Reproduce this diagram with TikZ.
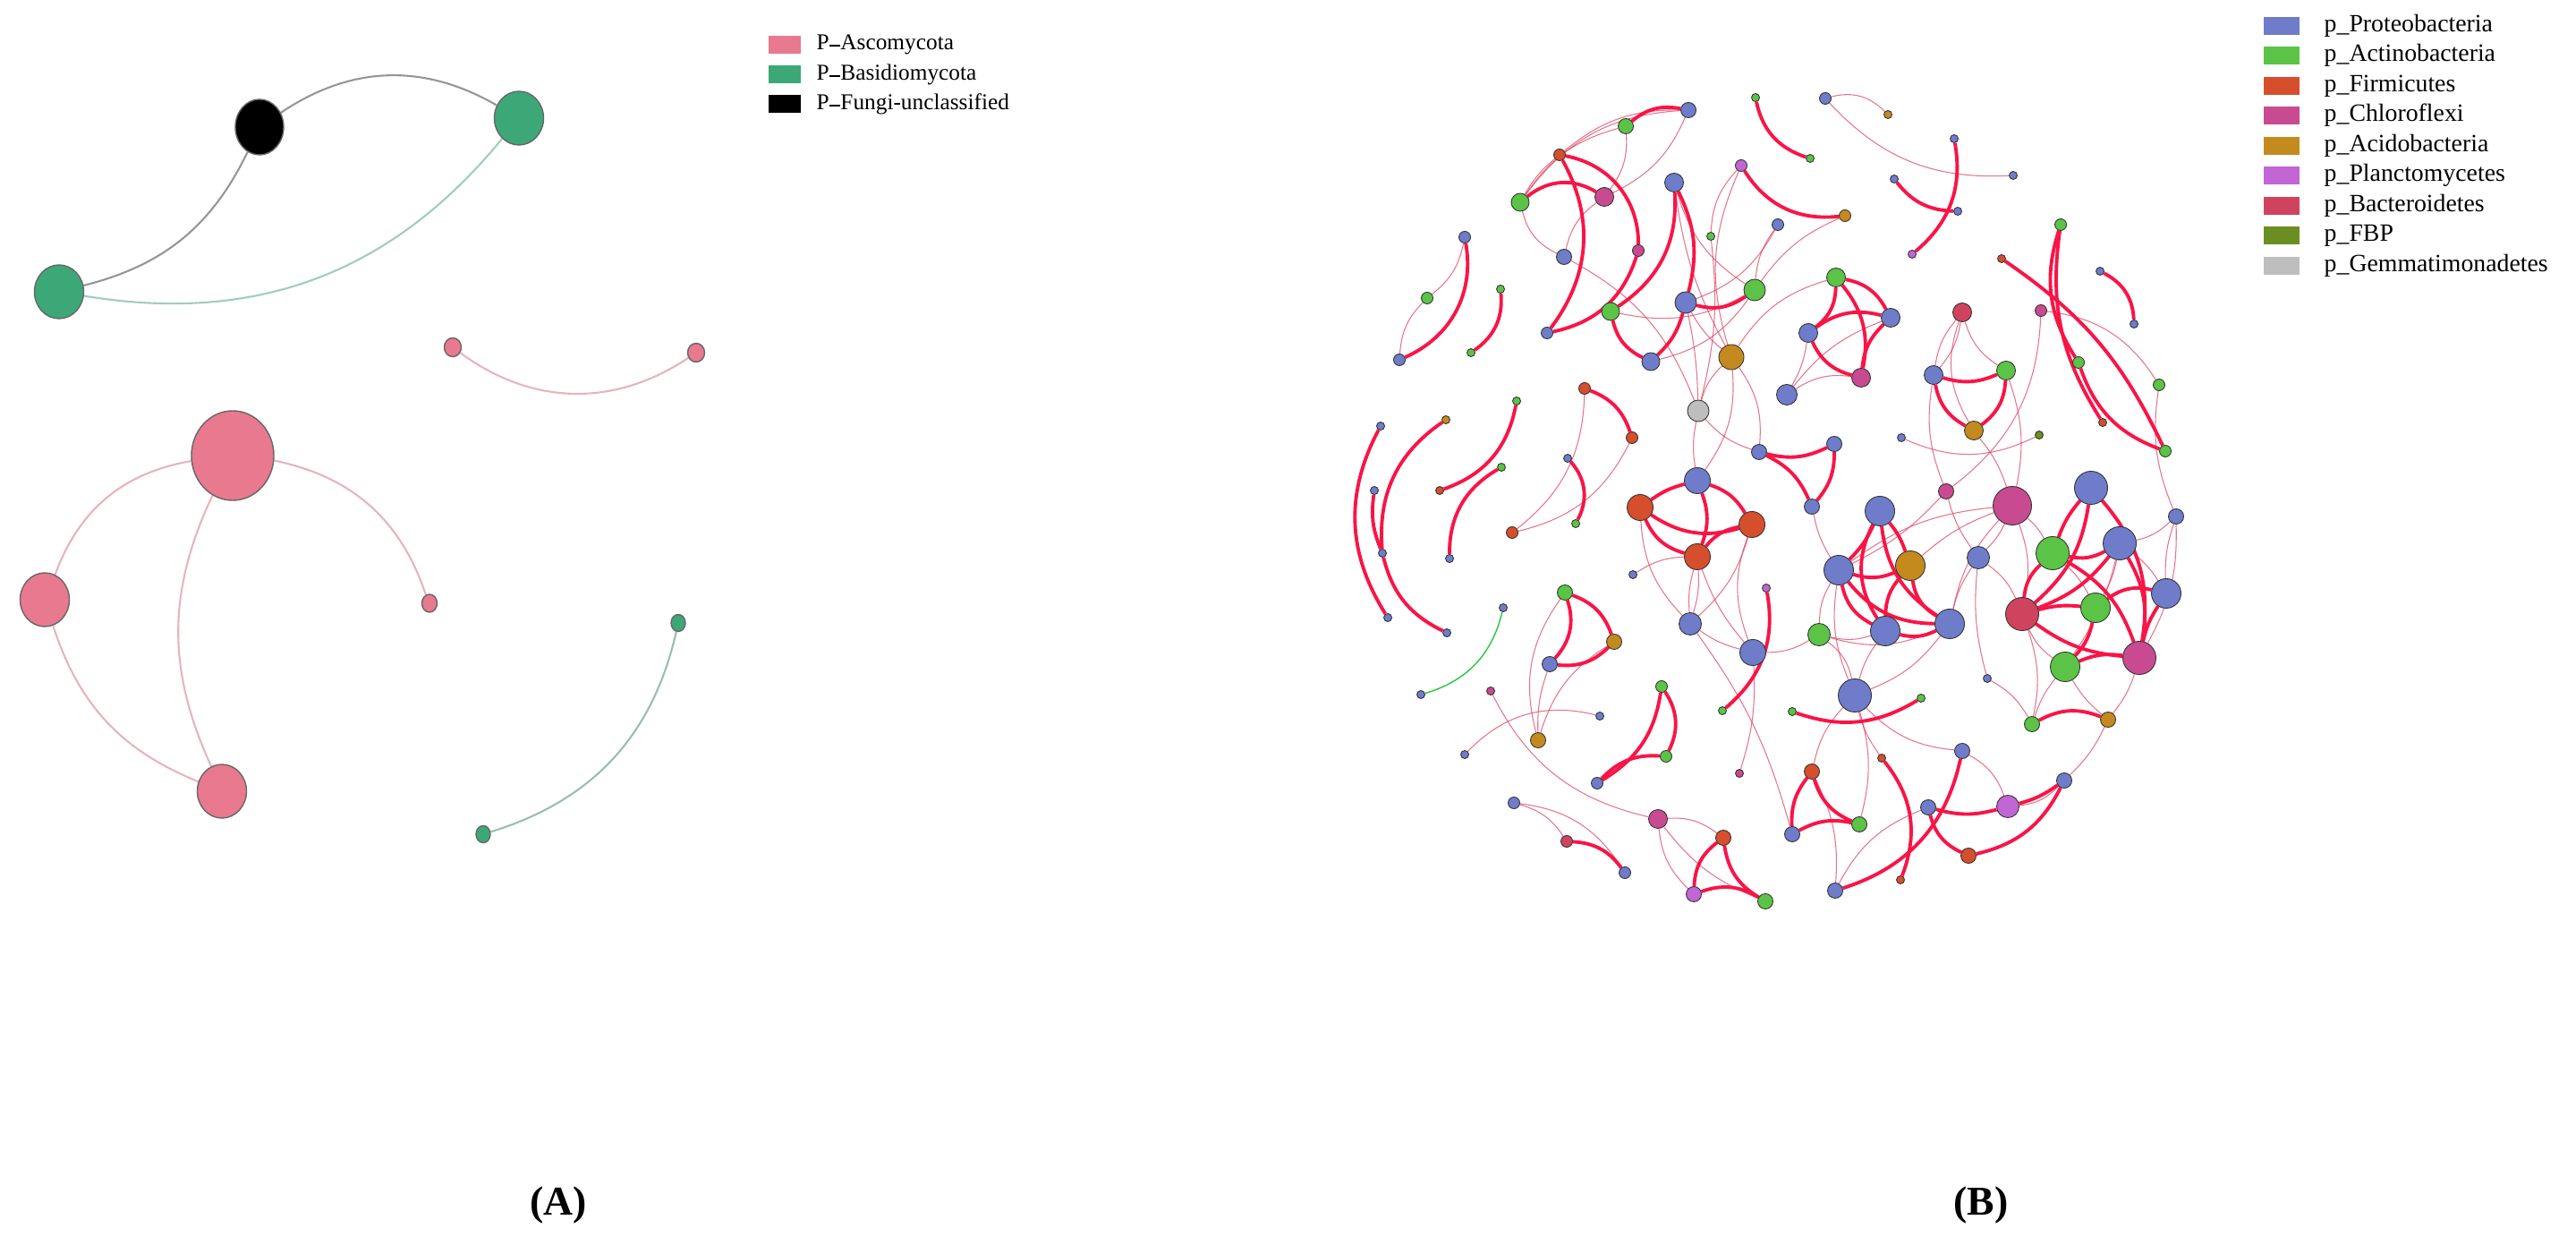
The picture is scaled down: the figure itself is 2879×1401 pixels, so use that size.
\documentclass[tikz,border=0pt]{standalone}
\usepackage{fontspec}
\setmainfont{Liberation Serif}
\usetikzlibrary{shapes.geometric}
\pgfdeclarelayer{edges}
\pgfsetlayers{edges,main}
\definecolor{cP}{RGB}{110,124,202}
\definecolor{cA}{RGB}{91,196,70}
\definecolor{cF}{RGB}{214,79,45}
\definecolor{cC}{RGB}{200,75,145}
\definecolor{cAc}{RGB}{196,138,30}
\definecolor{cPl}{RGB}{193,102,212}
\definecolor{cB}{RGB}{208,67,94}
\definecolor{cFBP}{RGB}{107,142,35}
\definecolor{cG}{RGB}{190,190,190}
\definecolor{fpink}{RGB}{232,121,142}
\definecolor{fgreen}{RGB}{60,168,120}
\definecolor{thick}{RGB}{250,20,70}
\definecolor{thinc}{RGB}{222,70,100}
\definecolor{egray}{RGB}{150,150,150}
\definecolor{egreen}{RGB}{160,205,188}
\definecolor{epink}{RGB}{230,180,190}
\definecolor{edgreen}{RGB}{40,200,60}
\newcommand{\vtx}[5]{\node[nd=#5, fill=c#4] (#1) at (#2,#3) {};}
\newcommand{\fdash}{\rule[0.3ex]{0.5em}{0.14ex}}
\tikzset{
  L/.style={bend left=#1},
  R/.style={bend right=#1},
  nd/.style={circle, draw=black!80, line width=0.25pt, inner sep=0pt, minimum size=#1*0.1mm},
  fnode/.style={ellipse, draw=black!60, line width=0.4pt, inner sep=0pt},
  tk/.style={draw=thick, line width=1.1pt},
  tn/.style={draw=thinc, line width=0.3pt, opacity=0.75},
  lgsq/.style={rectangle, inner sep=0pt, minimum width=3.6mm, minimum height=2mm},
  lgtxt/.style={anchor=west, inner sep=0pt, font=\fontsize{7.2}{8}\selectfont},
  lgtxtb/.style={anchor=west, inner sep=0pt, font=\fontsize{7.9}{9}\selectfont},
  lab/.style={font=\fontsize{13}{15}\selectfont\bfseries}
}
\begin{document}
\begin{tikzpicture}[x=0.01cm,y=-0.01cm]
\useasboundingbox (0,0) rectangle (2879,1401);

% ---------------- Panel A ----------------
\node[fnode, fill=black, minimum width=5.4mm, minimum height=6.2mm] (fblk) at (290,142) {};
\node[fnode, fill=fgreen, minimum width=5.5mm, minimum height=6mm] (fg1) at (580,132) {};
\node[fnode, fill=fgreen, minimum width=5.5mm, minimum height=6mm] (fg2) at (66,326) {};
\node[fnode, fill=fpink, minimum width=1.9mm, minimum height=2.1mm] (fs1) at (506,388) {};
\node[fnode, fill=fpink, minimum width=1.9mm, minimum height=2.1mm] (fs2) at (778,394) {};
\node[fnode, fill=fpink, minimum width=9.2mm, minimum height=10mm] (fbp) at (260,509) {};
\node[fnode, fill=fpink, minimum width=5.5mm, minimum height=6mm] (fpl) at (50,670) {};
\node[fnode, fill=fpink, minimum width=5.5mm, minimum height=6mm] (fpb) at (248,884) {};
\node[fnode, fill=fpink, minimum width=1.7mm, minimum height=2mm] (fs3) at (480,674) {};
\node[fnode, fill=fgreen, minimum width=1.6mm, minimum height=1.9mm] (fgs1) at (758,696) {};
\node[fnode, fill=fgreen, minimum width=1.6mm, minimum height=1.9mm] (fgs2) at (540,932) {};

\begin{pgfonlayer}{edges}
\draw[egray, line width=0.6pt] (fblk) to[L=25] (fg2);
\draw[egray, line width=0.6pt] (fblk) to[L=32] (fg1);
\draw[egreen, line width=0.6pt] (fg1) to[L=30] (fg2);
\draw[epink, line width=0.6pt] (fs1) to[R=35] (fs2);
\draw[epink, line width=0.6pt] (fbp) to[R=30] (fpl);
\draw[epink, line width=0.6pt] (fpl) to[R=25] (fpb);
\draw[epink, line width=0.6pt] (fbp) to[R=25] (fpb);
\draw[epink, line width=0.6pt] (fbp) to[L=30] (fs3);
\draw[egreen!80!gray, line width=0.6pt] (fgs1) to[L=30] (fgs2);
\end{pgfonlayer}

% legend A
\node[lgsq, fill=fpink] (la1) at (877,50) {};
\node[lgsq, fill=fgreen] (la2) at (877,83) {};
\node[lgsq, fill=black] (la3) at (877,116) {};
\node[lgtxt] (lta1) at (912,50) {P\fdash Ascomycota};
\node[lgtxt] (lta2) at (912,83) {P\fdash Basidiomycota};
\node[lgtxt] (lta3) at (912,116) {P\fdash Fungi-unclassified};

% ---------------- Panel B nodes ----------------
\vtx{a1}{1887}{123}{P}{17}
\vtx{a2}{1817}{141}{A}{17}
\vtx{a3}{1743}{173}{F}{13}
\vtx{a4}{1793}{220}{C}{21}
\vtx{a5}{1699}{226}{A}{20}
\vtx{a6}{1871}{204}{P}{21}
\vtx{a7}{1946}{185}{Pl}{13}
\vtx{a8}{1962}{109}{A}{9}
\vtx{a9}{1637}{265}{P}{13}
\vtx{a10}{1748}{287}{P}{17}
\vtx{a11}{1831}{280}{C}{13}
\vtx{a12}{1912}{264}{A}{9}
\vtx{a13}{1987}{251}{P}{13}
\vtx{a14}{1595}{333}{A}{13}
\vtx{a15}{1677}{323}{A}{9}
\vtx{a16}{1564}{402}{P}{13}
\vtx{a17}{1644}{394}{A}{9}
\vtx{a18}{1729}{372}{P}{13}
\vtx{a19}{1800}{348}{A}{20}
\vtx{a20}{1884}{338}{P}{24}
\vtx{a21}{1961}{324}{A}{24}
\vtx{a22}{1845}{404}{P}{20}
\vtx{a23}{1935}{399}{Ac}{28}
\vtx{a24}{1898}{459}{G}{24}
\vtx{a25}{1997}{441}{P}{23}
\vtx{a26}{1771}{434}{F}{13}
\vtx{a27}{1824}{489}{F}{13}
\vtx{a28}{1695}{448}{A}{9}
\vtx{a29}{1616}{469}{Ac}{9}
\vtx{a30}{1543}{476}{P}{9}
\vtx{a31}{1752}{512}{P}{9}
\vtx{a32}{1678}{522}{A}{9}
\vtx{a33}{1609}{548}{F}{9}
\vtx{a34}{1536}{548}{P}{9}
\vtx{a35}{1966}{505}{P}{17}
\vtx{a36}{1897}{537}{P}{29}
\vtx{b1}{2040}{110}{P}{13}
\vtx{b2}{2110}{128}{Ac}{9}
\vtx{b3}{2023}{177}{A}{9}
\vtx{b4}{2184}{155}{P}{9}
\vtx{b5}{2117}{200}{P}{9}
\vtx{b6}{2250}{196}{P}{9}
\vtx{b7}{2188}{236}{P}{9}
\vtx{b8}{2062}{241}{Ac}{13}
\vtx{b9}{2137}{284}{Pl}{9}
\vtx{b10}{2303}{251}{A}{13}
\vtx{b11}{2237}{289}{F}{9}
\vtx{b12}{2347}{303}{P}{9}
\vtx{b13}{2385}{362}{P}{9}
\vtx{b14}{2052}{310}{A}{21}
\vtx{b15}{2113}{355}{P}{21}
\vtx{b16}{2021}{372}{P}{21}
\vtx{b17}{2080}{422}{C}{21}
\vtx{b18}{2193}{349}{B}{21}
\vtx{b19}{2281}{347}{C}{13}
\vtx{b20}{2323}{405}{A}{13}
\vtx{b21}{2413}{430}{A}{13}
\vtx{b22}{2161}{419}{P}{21}
\vtx{b23}{2242}{414}{A}{21}
\vtx{b24}{2206}{481}{Ac}{21}
\vtx{b25}{2350}{472}{F}{9}
\vtx{b26}{2420}{504}{A}{13}
\vtx{b27}{2125}{489}{P}{9}
\vtx{b28}{2279}{486}{FBP}{9}
\vtx{b29}{2050}{496}{P}{17}
\vtx{b30}{2175}{549}{C}{17}
\vtx{c1}{1833}{567}{F}{29}
\vtx{c2}{1958}{586}{F}{29}
\vtx{c3}{1897}{622}{F}{29}
\vtx{c4}{1690}{595}{F}{13}
\vtx{c5}{1761}{585}{A}{9}
\vtx{c6}{1545}{618}{P}{9}
\vtx{c7}{1620}{624}{P}{9}
\vtx{c8}{1825}{642}{P}{9}
\vtx{c9}{1974}{657}{Pl}{9}
\vtx{c10}{1551}{690}{P}{9}
\vtx{c11}{1617}{707}{P}{9}
\vtx{c12}{1680}{679}{P}{9}
\vtx{c13}{1749}{662}{A}{17}
\vtx{c14}{1804}{717}{Ac}{17}
\vtx{c15}{1732}{742}{P}{17}
\vtx{c16}{1889}{697}{P}{25}
\vtx{c17}{1959}{729}{P}{29}
\vtx{c18}{1588}{776}{P}{9}
\vtx{c19}{1666}{772}{C}{9}
\vtx{c20}{1788}{800}{P}{9}
\vtx{c21}{1637}{843}{P}{9}
\vtx{c22}{1719}{827}{Ac}{17}
\vtx{c23}{1857}{767}{A}{13}
\vtx{c24}{1925}{794}{A}{9}
\vtx{c25}{1862}{845}{A}{13}
\vtx{c26}{1785}{875}{P}{13}
\vtx{c27}{1944}{864}{C}{9}
\vtx{c28}{1692}{897}{P}{13}
\vtx{c29}{1751}{940}{B}{13}
\vtx{c30}{1816}{975}{P}{13}
\vtx{c31}{1853}{915}{C}{21}
\vtx{c32}{1926}{936}{F}{17}
\vtx{c33}{1893}{999}{Pl}{17}
\vtx{c34}{1973}{1007}{A}{17}
\vtx{c35}{2003}{932}{P}{17}
\vtx{c36}{2003}{795}{A}{9}
\vtx{d1}{2101}{571}{P}{33}
\vtx{d2}{2249}{565}{C}{43}
\vtx{d3}{2337}{545}{P}{37}
\vtx{d4}{2025}{566}{P}{17}
\vtx{d5}{2432}{577}{P}{17}
\vtx{d6}{2055}{637}{P}{33}
\vtx{d7}{2135}{632}{Ac}{33}
\vtx{d8}{2211}{623}{P}{25}
\vtx{d9}{2294}{618}{A}{37}
\vtx{d10}{2369}{607}{P}{37}
\vtx{d11}{2421}{663}{P}{33}
\vtx{d12}{2342}{679}{A}{33}
\vtx{d13}{2260}{686}{B}{37}
\vtx{d14}{2391}{735}{C}{37}
\vtx{d15}{2308}{745}{A}{33}
\vtx{d16}{2033}{709}{A}{25}
\vtx{d17}{2107}{705}{P}{33}
\vtx{d18}{2179}{697}{P}{33}
\vtx{d19}{2073}{777}{P}{37}
\vtx{d20}{2147}{780}{A}{9}
\vtx{d21}{2221}{758}{P}{9}
\vtx{d22}{2271}{809}{A}{17}
\vtx{d23}{2356}{804}{Ac}{17}
\vtx{d25}{2193}{839}{P}{17}
\vtx{d26}{2103}{847}{F}{9}
\vtx{d27}{2025}{862}{F}{17}
\vtx{d28}{2307}{872}{P}{17}
\vtx{d29}{2155}{902}{P}{17}
\vtx{d30}{2244}{901}{Pl}{25}
\vtx{d31}{2078}{921}{A}{17}
\vtx{d33}{2200}{956}{F}{17}
\vtx{d34}{2124}{983}{F}{9}
\vtx{d35}{2051}{995}{P}{17}

\begin{pgfonlayer}{edges}
% thin edges
\draw[tn] (a3) to[L=20] (a1);
\draw[tn] (a5) to[L=25] (a1);
\draw[tn] (a5) to[L=20] (a2);
\draw[tn] (a5) to[L=10] (a3);
\draw[tn] (a2) to[L=20] (a4);
\draw[tn] (a1) to[L=20] (a4);
\draw[tn] (a4) to[R=20] (a10);
\draw[tn] (a5) to[R=25] (a10);
\draw[tn] (a10) to[L=20] (a24);
\draw[tn] (a9) to[L=20] (a14);
\draw[tn] (a14) to[R=20] (a16);
\draw[tn] (a6) to[R=20] (a21);
\draw[tn] (a6) to[R=10] (a23);
\draw[tn] (a7) to[R=20] (a12);
\draw[tn] (a7) to[R=20] (a23);
\draw[tn] (a12) to[L=10] (a24);
\draw[tn] (a13) to[R=15] (a21);
\draw[tn] (a13) to[L=20] (a20);
\draw[tn] (a21) to[L=20] (a19);
\draw[tn] (a21) to[L=20] (a22);
\draw[tn] (a23) to[R=15] (a24);
\draw[tn] (a23) to[L=20] (a36);
\draw[tn] (a24) to[R=15] (a35);
\draw[tn] (a24) to[R=10] (a36);
\draw[tn] (a23) to[L=20] (a35);
\draw[tn] (a26) to[L=25] (c4);
\draw[tn] (a27) to[L=25] (c4);
\draw[tn] (a20) to[L=5] (a24);
\draw[tn] (a20) to[R=10] (a23);
\draw[tn] (b1) to[L=30] (b2);
\draw[tn] (b1) to[R=25] (b6);
\draw[tn] (b8) to[R=15] (a21);
\draw[tn] (b15) to[R=15] (a25);
\draw[tn] (b17) to[R=20] (a25);
\draw[tn] (b16) to[L=10] (a25);
\draw[tn] (b14) to[R=20] (a23);
\draw[tn] (b18) to[R=15] (b22);
\draw[tn] (b18) to[L=15] (b22);
\draw[tn] (b18) to[R=20] (b23);
\draw[tn] (b18) to[R=25] (b24);
\draw[tn] (b19) to[L=25] (b21);
\draw[tn] (b19) to[L=25] (b30);
\draw[tn] (b23) to[L=15] (d2);
\draw[tn] (b24) to[L=10] (d2);
\draw[tn] (b27) to[R=25] (b28);
\draw[tn] (b22) to[R=15] (b30);
\draw[tn] (b21) to[R=15] (d5);
\draw[tn] (c8) to[L=15] (c3);
\draw[tn] (c3) to[L=10] (c16);
\draw[tn] (c3) to[R=10] (c16);
\draw[tn] (c3) to[R=10] (c17);
\draw[tn] (c1) to[R=20] (c16);
\draw[tn] (c2) to[L=15] (c16);
\draw[tn] (c2) to[R=20] (c17);
\draw[tn] (c16) to[R=10] (c17);
\draw[tn] (c17) to[L=10] (c27);
\draw[tn] (c16) to[L=10] (c35);
\draw[tn] (c13) to[R=25] (c22);
\draw[tn] (c15) to[R=10] (c22);
\draw[tn] (c14) to[R=20] (c22);
\draw[tn] (c19) to[R=25] (c31);
\draw[tn] (c28) to[L=20] (c29);
\draw[tn] (c28) to[L=25] (c30);
\draw[tn] (c31) to[L=20] (c32);
\draw[tn] (c31) to[R=20] (c33);
\draw[tn] (c31) to[R=15] (c34);
\draw[tn] (c21) to[L=30] (c20);
\draw[tn] (c17) to[R=15] (d16);
\draw[edgreen, line width=0.4pt] (c12) to[L=30] (c18);
\draw[tn] (d16) to[L=15] (d6);
\draw[tn] (d16) to[R=15] (d17);
\draw[tn] (d16) to[R=20] (d18);
\draw[tn] (d16) to[L=20] (d19);
\draw[tn] (d6) to[R=15] (d19);
\draw[tn] (d17) to[R=10] (d19);
\draw[tn] (d18) to[L=15] (d19);
\draw[tn] (d2) to[R=15] (d6);
\draw[tn] (d2) to[R=10] (d7);
\draw[tn] (d2) to[L=10] (d8);
\draw[tn] (d2) to[L=10] (d9);
\draw[tn] (d2) to[L=15] (d13);
\draw[tn] (d2) to[R=15] (d18);
\draw[tn] (d8) to[L=15] (d13);
\draw[tn] (d8) to[R=10] (d21);
\draw[tn] (d21) to[L=15] (d22);
\draw[tn] (d22) to[R=15] (d13);
\draw[tn] (d22) to[L=10] (d15);
\draw[tn] (d23) to[R=10] (d14);
\draw[tn] (d23) to[L=10] (d15);
\draw[tn] (d25) to[L=20] (d30);
\draw[tn] (d19) to[R=20] (d25);
\draw[tn] (d27) to[L=15] (d19);
\draw[tn] (d31) to[R=15] (d19);
\draw[tn] (d35) to[L=20] (d29);
\draw[tn] (d35) to[R=15] (d27);
\draw[tn] (d28) to[L=20] (d30);
\draw[tn] (d5) to[L=15] (d10);
\draw[tn] (d5) to[R=10] (d11);
\draw[tn] (d5) to[L=15] (d14);
\draw[tn] (d10) to[L=10] (d11);
\draw[tn] (d12) to[R=10] (d10);
\draw[tn] (d13) to[R=15] (d15);
\draw[tn] (d9) to[L=10] (d12);
\draw[tn] (d10) to[L=10] (d15);
\draw[tn] (d26) to[L=10] (d19);
\draw[tn] (d4) to[R=10] (d6);
\draw[tn] (d8) to[R=10] (d18);
\draw[tn] (d23) to[L=10] (d28);
\draw[tn] (b30) to[R=10] (d8);
\draw[tn] (b30) to[L=10] (d6);
% thick edges
\draw[tk] (a2) to[L=25] (a1);
\draw[tk] (a5) to[L=35] (a4);
\draw[tk] (a3) to[L=40] (a11);
\draw[tk] (a3) to[L=33] (a18);
\draw[tk] (a11) to[L=30] (a18);
\draw[tk] (a19) to[R=30] (a6);
\draw[tk] (a6) to[L=20] (a20);
\draw[tk] (a20) to[R=25] (a21);
\draw[tk] (a22) to[R=15] (a20);
\draw[tk] (a19) to[R=25] (a22);
\draw[tk] (a7) to[R=32] (b8);
\draw[tk] (a8) to[R=30] (b3);
\draw[tk] (a9) to[L=38] (a16);
\draw[tk] (a15) to[L=30] (a17);
\draw[tk] (a26) to[L=25] (a27);
\draw[tk] (a28) to[L=30] (a33);
\draw[tk] (a29) to[R=30] (c6);
\draw[tk] (a34) to[R=15] (c6);
\draw[tk] (c6) to[R=25] (c11);
\draw[tk] (a30) to[R=30] (c10);
\draw[tk] (a32) to[R=30] (c7);
\draw[tk] (a31) to[L=35] (c5);
\draw[tk] (a36) to[R=10] (c1);
\draw[tk] (a36) to[L=20] (c3);
\draw[tk] (a36) to[L=20] (c2);
\draw[tk] (c1) to[R=25] (c2);
\draw[tk] (c1) to[R=25] (c3);
\draw[tk] (c3) to[L=20] (c2);
\draw[tk] (c13) to[L=25] (c14);
\draw[tk] (c13) to[L=30] (c15);
\draw[tk] (c15) to[R=25] (c14);
\draw[tk] (c23) to[L=30] (c25);
\draw[tk] (c23) to[L=25] (c26);
\draw[tk] (c26) to[L=25] (c25);
\draw[tk] (c9) to[L=30] (c24);
\draw[tk] (c29) to[L=25] (c30);
\draw[tk] (c32) to[R=25] (c33);
\draw[tk] (c32) to[R=25] (c34);
\draw[tk] (c33) to[L=25] (c34);
\draw[tk] (b4) to[L=30] (b9);
\draw[tk] (b5) to[R=25] (b7);
\draw[tk] (b10) to[R=25] (b20);
\draw[tk] (b10) to[R=20] (b25);
\draw[tk] (b11) to[L=15] (b26);
\draw[tk] (b20) to[R=25] (b26);
\draw[tk] (b12) to[L=30] (b13);
\draw[tk] (b14) to[L=25] (b15);
\draw[tk] (b14) to[L=25] (b16);
\draw[tk] (b14) to[L=25] (b17);
\draw[tk] (b16) to[L=25] (b15);
\draw[tk] (b16) to[R=25] (b17);
\draw[tk] (b15) to[R=20] (b17);
\draw[tk] (b22) to[R=20] (b23);
\draw[tk] (b22) to[R=25] (b24);
\draw[tk] (b23) to[L=25] (b24);
\draw[tk] (a35) to[R=20] (b29);
\draw[tk] (b29) to[L=20] (d4);
\draw[tk] (a35) to[L=20] (d4);
\draw[tk] (d1) to[L=10] (d6);
\draw[tk] (d1) to[L=10] (d7);
\draw[tk] (d1) to[R=30] (d17);
\draw[tk] (d1) to[R=25] (d18);
\draw[tk] (d6) to[R=20] (d7);
\draw[tk] (d6) to[R=25] (d17);
\draw[tk] (d6) to[R=25] (d18);
\draw[tk] (d7) to[R=20] (d17);
\draw[tk] (d7) to[R=25] (d18);
\draw[tk] (d17) to[R=20] (d18);
\draw[tk] (d3) to[R=10] (d9);
\draw[tk] (d3) to[L=20] (d13);
\draw[tk] (d3) to[L=25] (d14);
\draw[tk] (d10) to[L=20] (d14);
\draw[tk] (d9) to[R=20] (d10);
\draw[tk] (d9) to[R=20] (d13);
\draw[tk] (d9) to[L=20] (d14);
\draw[tk] (d10) to[L=15] (d13);
\draw[tk] (d12) to[L=25] (d11);
\draw[tk] (d13) to[L=10] (d12);
\draw[tk] (d13) to[R=15] (d14);
\draw[tk] (d12) to[L=15] (d15);
\draw[tk] (d15) to[L=15] (d14);
\draw[tk] (d11) to[R=10] (d14);
\draw[tk] (c36) to[R=25] (d20);
\draw[tk] (d22) to[L=25] (d23);
\draw[tk] (d25) to[L=30] (d35);
\draw[tk] (d26) to[L=30] (d34);
\draw[tk] (d29) to[R=15] (d30);
\draw[tk] (d30) to[R=10] (d28);
\draw[tk] (d29) to[R=25] (d33);
\draw[tk] (d33) to[R=25] (d28);
\draw[tk] (d27) to[R=25] (d31);
\draw[tk] (d27) to[R=20] (c35);
\draw[tk] (c35) to[L=20] (d31);
\end{pgfonlayer}

% legend B
\node[lgsq, fill=cP, minimum width=4mm] (lb1) at (2550,29) {};
\node[lgsq, fill=cA, minimum width=4mm] (lb2) at (2550,62) {};
\node[lgsq, fill=cF, minimum width=4mm] (lb3) at (2550,96) {};
\node[lgsq, fill=cC, minimum width=4mm] (lb4) at (2550,129) {};
\node[lgsq, fill=cAc, minimum width=4mm] (lb5) at (2550,163) {};
\node[lgsq, fill=cPl, minimum width=4mm] (lb6) at (2550,196) {};
\node[lgsq, fill=cB, minimum width=4mm] (lb7) at (2550,230) {};
\node[lgsq, fill=cFBP, minimum width=4mm] (lb8) at (2550,263) {};
\node[lgsq, fill=cG, minimum width=4mm] (lb9) at (2550,297) {};
\node[lgtxtb] (ltb1) at (2597,29) {p\_Proteobacteria};
\node[lgtxtb] (ltb2) at (2597,62) {p\_Actinobacteria};
\node[lgtxtb] (ltb3) at (2597,96) {p\_Firmicutes};
\node[lgtxtb] (ltb4) at (2597,129) {p\_Chloroflexi};
\node[lgtxtb] (ltb5) at (2597,163) {p\_Acidobacteria};
\node[lgtxtb] (ltb6) at (2597,196) {p\_Planctomycetes};
\node[lgtxtb] (ltb7) at (2597,230) {p\_Bacteroidetes};
\node[lgtxtb] (ltb8) at (2597,263) {p\_FBP};
\node[lgtxtb] (ltb9) at (2597,297) {p\_Gemmatimonadetes};

% panel labels
\node[lab] (labA) at (624,1346) {(A)};
\node[lab] (labB) at (2214,1346) {(B)};
\end{tikzpicture}
\end{document}
